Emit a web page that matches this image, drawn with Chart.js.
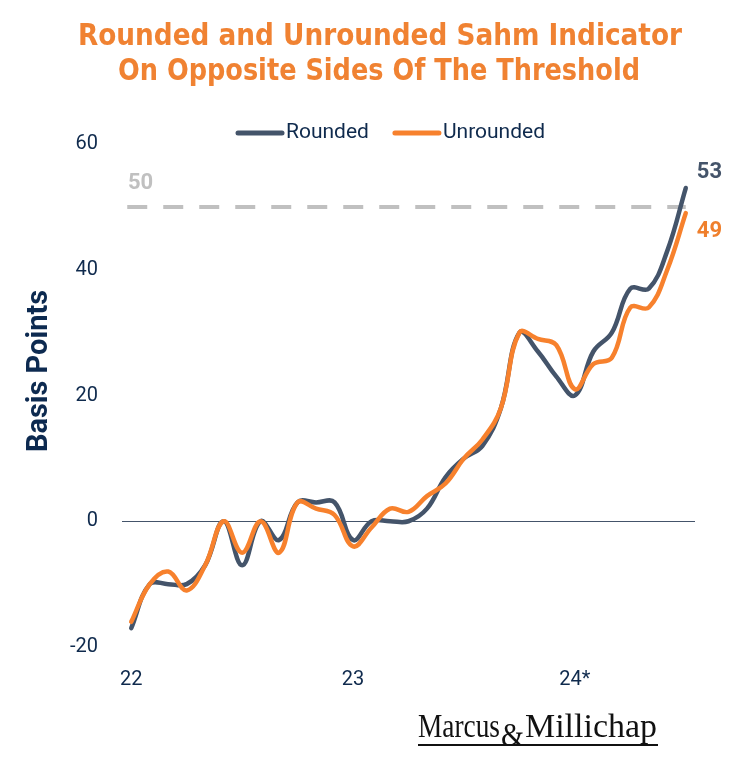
<!DOCTYPE html>
<html>
<head>
<meta charset="utf-8">
<script src="https://cdn.jsdelivr.net/npm/chart.js@4.4.1/dist/chart.umd.min.js"></script>
<style>
  html, body { margin: 0; padding: 0; background: #fff; }
  #wrap { width: 733px; height: 760px; }
</style>
</head>
<body>
<div id="wrap"><canvas id="sahm" width="733" height="760"></canvas></div>
<script>
// monthly, Jan 2022 .. Jul 2024
const months = [
  'Jan 22', 'Feb 22', 'Mar 22', 'Apr 22', 'May 22', 'Jun 22', 'Jul 22', 'Aug 22', 'Sep 22', 'Oct 22', 'Nov 22', 'Dec 22',
  'Jan 23', 'Feb 23', 'Mar 23', 'Apr 23', 'May 23', 'Jun 23', 'Jul 23', 'Aug 23', 'Sep 23', 'Oct 23', 'Nov 23', 'Dec 23',
  'Jan 24', 'Feb 24', 'Mar 24', 'Apr 24', 'May 24', 'Jun 24', 'Jul 24'
];
const rounded = [-17, -10, -10, -10, -7, 0, -7, 0, -3, 3, 3, 3, -3, 0, 0, 0, 2, 7, 10, 12, 18, 30, 27, 23, 20, 27, 30, 37, 37, 43, 53];
const unrounded = [-16, -10, -8, -11, -7, 0, -5, 0, -5, 3, 2, 1, -4, -1, 2, 1.5, 4, 6, 10, 13, 18, 30, 29, 28, 21, 25, 26, 34, 34, 40, 49];
const yearTickIndex = [0, 12, 24];
const yearTickLabels = ['22', '23', '24*'];
const yMin = -20, yMax = 60, yStep = 20;
const threshold = 50;

const NAVY = '#44546a';
const ORANGE = '#f7812d';
const TEXT = '#0f2a4d';
const GREY = '#c0c0c0';

const overlay = {
  id: 'overlay',
  beforeDatasetsDraw(chart) {
    const { ctx, scales: { x, y } } = chart;
    const yy = y.getPixelForValue(threshold);
    ctx.save();
    ctx.strokeStyle = GREY;
    ctx.lineWidth = 4;
    ctx.setLineDash([20, 16]);
    ctx.beginPath();
    ctx.moveTo(x.getPixelForValue(0) - 4, yy);
    ctx.lineTo(x.getPixelForValue(months.length - 1), yy);
    ctx.stroke();
    ctx.restore();
  },
  afterDraw(chart) {
    const { ctx, scales: { y } } = chart;
    ctx.save();

    // title
    ctx.fillStyle = '#f08232';
    ctx.font = 'bold 30px "DejaVu Sans", sans-serif';
    ctx.textAlign = 'center';
    ctx.textBaseline = 'middle';
    ctx.fillText('Rounded and Unrounded Sahm Indicator', 380, 37, 604);
    ctx.fillText('On Opposite Sides Of The Threshold', 379, 72, 522);

    // legend
    ctx.font = '21px Roboto, sans-serif';
    ctx.textAlign = 'left';
    ctx.lineCap = 'round';
    ctx.lineWidth = 5;
    let lx = 238;
    chart.data.datasets.slice().sort((a, b) => b.order - a.order).forEach(ds => {
      ctx.strokeStyle = ds.borderColor;
      ctx.beginPath();
      ctx.moveTo(lx, 133);
      ctx.lineTo(lx + 44, 133);
      ctx.stroke();
      ctx.fillStyle = TEXT;
      ctx.fillText(ds.label, lx + 48, 133);
      lx += 48 + ctx.measureText(ds.label).width + 26;
    });

    // y axis title
    ctx.save();
    ctx.translate(40, 371);
    ctx.rotate(-Math.PI / 2);
    ctx.textAlign = 'center';
    ctx.fillStyle = '#0d2a50';
    ctx.font = 'bold 29px Roboto, sans-serif';
    ctx.fillText('Basis Points', 0, 0);
    ctx.restore();

    // threshold label
    ctx.font = 'bold 22px Roboto, sans-serif';
    ctx.fillStyle = GREY;
    ctx.textAlign = 'left';
    ctx.fillText(String(threshold), 128, y.getPixelForValue(threshold) - 23);

    // end labels
    const last = months.length - 1;
    chart.data.datasets.forEach((ds, i) => {
      const pt = chart.getDatasetMeta(i).data[last];
      ctx.fillStyle = ds.labelColor;
      ctx.fillText(String(ds.data[last]), pt.x + 11, pt.y + (ds.label === 'Rounded' ? -16 : 18));
    });

    // logo
    ctx.fillStyle = '#111';
    ctx.textBaseline = 'alphabetic';
    ctx.font = '34px "Liberation Serif", serif';
    ctx.fillText('Marcus', 418, 737, 82);
    ctx.fillText('Millichap', 525, 737, 132);
    ctx.font = '34px "Liberation Serif", serif';
    ctx.fillText('&', 501, 746, 23);
    ctx.fillRect(418, 744, 240, 2);

    ctx.restore();
  }
};

new Chart(document.getElementById('sahm'), {
  type: 'line',
  data: {
    labels: months,
    datasets: [
      {
        label: 'Rounded',
        data: rounded,
        borderColor: NAVY,
        labelColor: NAVY,
        order: 2
      },
      {
        label: 'Unrounded',
        data: unrounded,
        borderColor: ORANGE,
        labelColor: '#ef7f2c',
        order: 1
      }
    ]
  },
  options: {
    responsive: false,
    devicePixelRatio: 1,
    animation: false,
    datasets: {
      line: {
        borderWidth: 4.5,
        tension: 0.4,
        pointRadius: 0,
        borderCapStyle: 'round',
        borderJoinStyle: 'round',
        fill: false
      }
    },
    layout: { padding: { top: 144, right: 38, left: 0, bottom: 0 } },
    plugins: {
      legend: { display: false },
      title: { display: false },
      tooltip: { enabled: false }
    },
    scales: {
      x: {
        offset: true,
        grid: { display: false, drawTicks: false },
        border: { display: false },
        afterFit: s => { s.height = 113; },
        ticks: {
          autoSkip: false,
          maxRotation: 0,
          padding: 21,
          color: TEXT,
          font: { family: 'Roboto, sans-serif', size: 20 },
          callback: (v, i) => {
            const k = yearTickIndex.indexOf(i);
            return k >= 0 ? yearTickLabels[k] : '';
          }
        }
      },
      y: {
        min: yMin,
        max: yMax,
        afterFit: s => { s.width = 122; },
        border: { display: false },
        grid: {
          drawTicks: false,
          lineWidth: 1,
          color: c => (c.tick && c.tick.value === 0 ? NAVY : 'transparent')
        },
        ticks: {
          stepSize: yStep,
          padding: 24,
          color: TEXT,
          font: { family: 'Roboto, sans-serif', size: 20 }
        }
      }
    }
  },
  plugins: [overlay]
});
</script>
</body>
</html>
